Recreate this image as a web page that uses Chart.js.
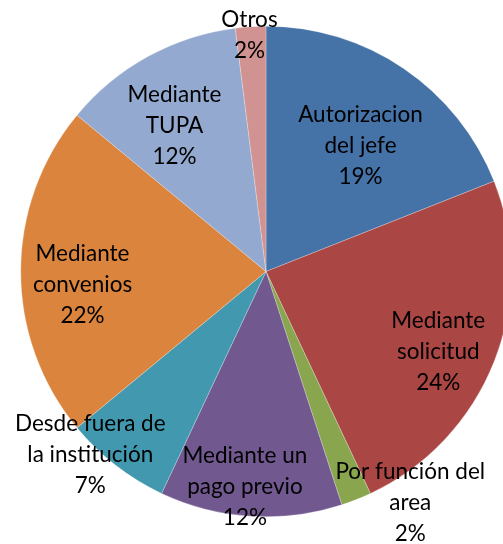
<!DOCTYPE html>
<html>
<head>
<meta charset="utf-8">
<script src="https://cdn.jsdelivr.net/npm/chart.js@4"></script>
<style>
  html, body { margin: 0; padding: 0; background: #fff; overflow: hidden; }
  #wrap { position: absolute; left: 0; top: 0; width: 532px; height: 544px; }
</style>
</head>
<body>
<div id="wrap"><canvas id="chart"></canvas></div>
<script>
const categories = [
  "Autorizacion del jefe",
  "Mediante solicitud",
  "Por función del area",
  "Mediante un pago previo",
  "Desde fuera de la institución",
  "Mediante convenios",
  "Mediante TUPA",
  "Otros",
];
const values = [19, 24, 2, 12, 7, 22, 12, 2];
const labelLines = [
  ["Autorizacion", "del jefe"],
  ["Mediante", "solicitud"],
  ["Por función del", "area"],
  ["Mediante un", "pago previo"],
  ["Desde fuera de", "la institución"],
  ["Mediante", "convenios"],
  ["Mediante", "TUPA"],
  ["Otros"],
];

const colors = ["#4572A7", "#AA4643", "#89A54E", "#71588F", "#4198AF", "#DB843D", "#93A9CF", "#D19392"];

// where each label block sits: angle (deg, clockwise from top) and radius fraction
const labelSpots = [
  [37, 0.64], [115, 0.775], [148, 1.11], [185.6, 0.88],
  [223.8, 1.035], [266, 0.75], [327.8, 0.70], [356, 0.965],
];

const sliceLabels = {
  id: "sliceLabels",
  afterDraw(chart) {
    const ctx = chart.ctx;
    const arcs = chart.getDatasetMeta(0).data;
    const total = values.reduce((a, b) => a + b, 0);
    ctx.save();
    ctx.font = "22.5px Lato";
    ctx.fillStyle = "#000";
    ctx.textAlign = "center";
    ctx.textBaseline = "middle";
    arcs.forEach((arc, i) => {
      const [deg, f] = labelSpots[i];
      const a = (deg - 90) * Math.PI / 180;
      const cx = arc.x + Math.cos(a) * arc.outerRadius * f;
      const cy = arc.y + Math.sin(a) * arc.outerRadius * f;
      const lines = labelLines[i].concat(Math.round(values[i] / total * 100) + "%");
      const lh = 31;
      const y0 = cy - (lines.length - 1) * lh / 2;
      lines.forEach((t, k) => ctx.fillText(t, cx, y0 + k * lh));
    });
    ctx.restore();
  },
};

new Chart(document.getElementById("chart"), {
  type: "pie",
  data: {
    labels: categories,
    datasets: [{
      data: values,
      backgroundColor: colors,
      borderColor: "rgba(255,255,255,0.5)",
      borderWidth: 0.5,
    }],
  },
  options: {
    responsive: true,
    maintainAspectRatio: false,
    animation: false,
    layout: { padding: { left: 20.5, right: 20.5, top: 26, bottom: 27 } },
    plugins: { legend: { display: false }, tooltip: { enabled: false } },
  },
  plugins: [sliceLabels],
});
</script>
</body>
</html>
